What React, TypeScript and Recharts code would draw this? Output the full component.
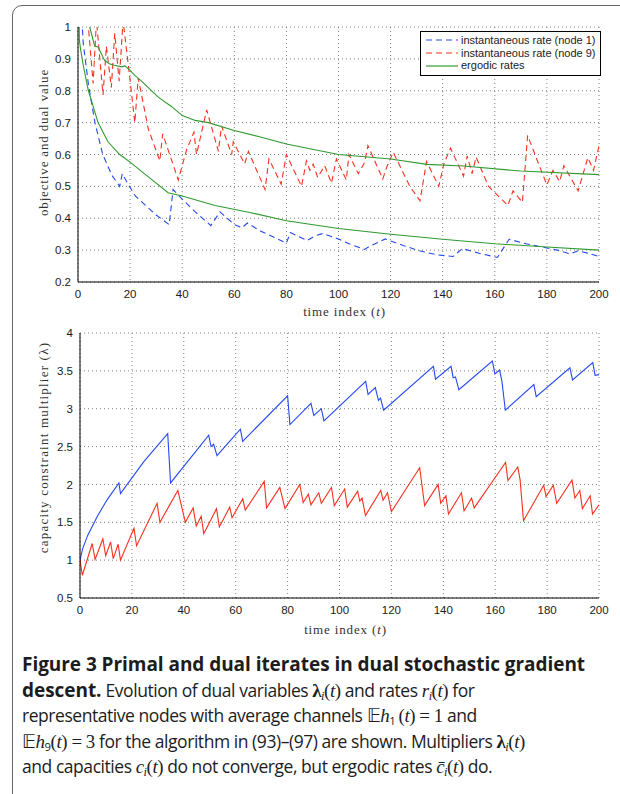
import React from 'react';
import { LineChart, Line, XAxis, YAxis, CartesianGrid, Legend } from 'recharts';

// tick labels
const timeTicks = [0, 20, 40, 60, 80, 100, 120, 140, 160, 180, 200];
const valueTicks = [0.2, 0.3, 0.4, 0.5, 0.6, 0.7, 0.8, 0.9, 1];
const multiplierTicks = [0.5, 1, 1.5, 2, 2.5, 3, 3.5, 4];

// top panel: [t, value]
const rateNode1: [number, number][] = [
  [0, 1.4], [1, 1.1], [2, 0.95], [4, 0.82], [6.5, 0.7], [9.5, 0.6], [13, 0.535], [16, 0.5], [17, 0.54],
  [19, 0.51], [22, 0.47], [26, 0.44], [30, 0.41], [35, 0.38], [36.5, 0.49], [40, 0.46], [45, 0.42],
  [51, 0.377], [54.5, 0.42], [60, 0.38], [63, 0.37], [65, 0.385], [70, 0.36], [74, 0.345], [80, 0.322],
  [81.5, 0.355], [88, 0.33], [91, 0.345], [94, 0.352], [100, 0.335], [104, 0.32], [110, 0.302],
  [111.5, 0.31], [118, 0.335], [125, 0.314], [131, 0.298], [138, 0.285], [144, 0.28], [147.5, 0.305],
  [154, 0.29], [161, 0.277], [165.5, 0.334], [172, 0.32], [179, 0.308], [184, 0.3], [189, 0.288],
  [192, 0.298], [196, 0.29], [200, 0.28],
];

const rateNode9: [number, number][] = [
  [0, 1.3], [2, 1.05], [4, 1.0], [5.8, 0.823], [7.1, 1.02], [9.6, 0.787], [10.9, 0.94], [12.8, 0.81],
  [14.1, 0.98], [15.8, 0.83], [17.3, 1.02], [19.9, 0.84], [21.8, 0.7], [23.1, 0.84], [27, 0.68],
  [31.4, 0.58], [32.5, 0.665], [38.5, 0.52], [41.7, 0.615], [44.5, 0.67], [45.5, 0.6], [49.4, 0.74],
  [53.9, 0.61], [55.1, 0.69], [59, 0.6], [59.6, 0.64], [64, 0.57], [65.4, 0.61], [71.8, 0.49],
  [73.3, 0.586], [78, 0.507], [80, 0.6], [85.8, 0.5], [87.7, 0.58], [89, 0.55], [90.3, 0.57],
  [92, 0.528], [94.7, 0.565], [97.3, 0.51], [99.2, 0.586], [103, 0.52], [104, 0.6], [107.6, 0.54],
  [110, 0.575], [111.3, 0.628], [117, 0.523], [118.5, 0.56], [121, 0.607], [127.4, 0.5], [131.3, 0.455],
  [133.8, 0.578], [138.5, 0.5], [140.5, 0.572], [143, 0.62], [148, 0.532], [149.4, 0.596], [151.3, 0.54],
  [152.8, 0.592], [157.6, 0.5], [165, 0.44], [167, 0.486], [170.6, 0.45], [172.6, 0.66], [176.6, 0.575],
  [180, 0.505], [182.3, 0.55], [184.9, 0.515], [186.5, 0.565], [192, 0.486], [195.7, 0.59],
  [197.9, 0.55], [200, 0.627],
];

const ergodicNode1: [number, number][] = [
  [0, 1.4], [0.5, 0.96], [1, 0.93], [2, 0.88], [4, 0.8], [7.7, 0.7], [11.5, 0.64], [16, 0.6], [20, 0.576],
  [27, 0.53], [34.6, 0.48], [40, 0.47], [52.6, 0.44], [66, 0.418], [80, 0.392], [100, 0.368],
  [120, 0.35], [140, 0.334], [160, 0.32], [180, 0.31], [200, 0.3],
];

const ergodicNode9: [number, number][] = [
  [0, 1.3], [1, 1.1], [4.5, 1.0], [6.4, 0.94], [7.7, 0.937], [10.2, 0.895], [12, 0.885], [14, 0.88],
  [16.7, 0.875], [18, 0.878], [20, 0.864], [21.8, 0.848], [24.4, 0.83], [30.8, 0.78], [36, 0.75],
  [40, 0.722], [45, 0.707], [50, 0.7], [60, 0.675], [70, 0.655], [80, 0.633], [100, 0.6], [120, 0.586],
  [134, 0.569], [148, 0.564], [170, 0.548], [200, 0.537],
];

// bottom panel: multipliers
const lambdaNode1: [number, number][] = [
  [0, 1.0], [1, 1.15], [3, 1.33], [6.7, 1.58], [10.5, 1.8], [15, 2.02], [15.6, 1.88], [24.6, 2.3],
  [33.8, 2.67], [34.9, 2.02], [49.6, 2.65], [50.5, 2.5], [51.5, 2.53], [52.8, 2.38], [61.8, 2.73],
  [62.7, 2.57], [80, 3.17], [80.9, 2.79], [89, 3.07], [90.1, 2.91], [93, 3.0], [94, 2.84], [110.1, 3.36],
  [111, 3.19], [113.8, 3.28], [115, 3.11], [115.8, 3.14], [117, 2.98], [136.2, 3.56], [137, 3.39],
  [143, 3.56], [143.8, 3.41], [144.7, 3.42], [146, 3.25], [158.9, 3.63], [159.9, 3.46], [161.7, 3.51],
  [162.6, 3.36], [163.9, 2.98], [174.9, 3.32], [175.8, 3.16], [188.8, 3.54], [189.8, 3.38],
  [197.6, 3.61], [198.5, 3.44], [200, 3.45],
];

const lambdaNode9: [number, number][] = [
  [0, 1.0], [0.9, 0.8], [4.7, 1.22], [5.8, 1.01], [8.8, 1.28], [9.9, 1.06], [11.8, 1.24], [12.8, 1.02],
  [14.7, 1.21], [15.6, 1.0], [20.8, 1.42], [21.8, 1.19], [29.7, 1.75], [30.8, 1.5], [37.7, 1.92],
  [40.6, 1.5], [43.6, 1.69], [44.8, 1.45], [46.7, 1.58], [47.7, 1.35], [52.6, 1.68], [53.7, 1.44],
  [57.7, 1.7], [58.6, 1.56], [62.7, 1.81], [63.7, 1.66], [71, 2.04], [71.9, 1.69], [77, 1.96], [79, 1.68],
  [84.7, 2.0], [86, 1.76], [88, 1.87], [89, 1.73], [92, 1.89], [93, 1.75], [96.9, 1.96], [98, 1.72],
  [102, 1.94], [103, 1.7], [107, 1.91], [107.8, 1.78], [108.7, 1.82], [110, 1.59], [115.9, 1.92],
  [116.8, 1.79], [118.5, 1.89], [120, 1.64], [130.9, 2.22], [132.8, 1.72], [138, 2.0], [139, 1.75],
  [141, 1.85], [142, 1.61], [147, 1.89], [148, 1.65], [150.9, 1.82], [151.9, 1.69], [164, 2.29],
  [164.9, 2.05], [168.7, 2.23], [169.6, 2.06], [170.9, 1.52], [178.7, 1.99], [179.6, 1.84], [182.4, 1.99],
  [183.7, 1.75], [189.6, 2.06], [190.7, 1.82], [192.6, 1.92], [193.6, 1.68], [196.6, 1.85], [197.5, 1.61],
  [200, 1.73],
];

const legendNames = ['instantaneous rate (node 1)', 'instantaneous rate (node 9)', 'ergodic rates'];

const BLUE = '#2449f0';
const RED = '#f5321e';
const GREEN = '#2f9a2f';
const DASH = '6 4';

const legendColors = [BLUE, RED, GREEN];
const legendDashes = [DASH, DASH, undefined];

const toPoints = (pairs: [number, number][]) => pairs.map(([t, v]) => ({ t, v }));

const tickStyle = { fontSize: 11.5, fill: '#1a1a1a', fontFamily: '"Liberation Sans", Arial, sans-serif' };
const serifLabel = { fontSize: 13, fill: '#333', fontFamily: '"Liberation Serif", serif', letterSpacing: 0.85 };

// grid only at the labelled ticks (plot offset maps the tick values)
const vGrid = (ticks: number[], lo: number, hi: number) => ({ offset }: any) =>
  ticks.map((t) => offset.left + ((t - lo) / (hi - lo)) * offset.width);
const hGrid = (ticks: number[], lo: number, hi: number) => ({ offset }: any) =>
  ticks.map((v) => offset.top + ((hi - v) / (hi - lo)) * offset.height);

const xLabel = (dy: number) => (props: any) => {
  const { viewBox } = props;
  return (
    <text x={viewBox.x + viewBox.width / 2 + 6} y={viewBox.y + dy} textAnchor="middle" style={serifLabel}>
      time index (<tspan fontStyle="italic">t</tspan>)
    </text>
  );
};

const yLabel = (text: string, dx: number, dy: number, spacing: number) => (props: any) => {
  const { viewBox } = props;
  const x = viewBox.x + dx;
  const y = viewBox.y + viewBox.height / 2 + dy;
  return (
    <text x={x} y={y} transform={`rotate(-90, ${x}, ${y})`} textAnchor="middle" dominantBaseline="central"
      style={{ ...serifLabel, letterSpacing: spacing }}>
      {text}
    </text>
  );
};

const renderLegend = () => (
  <div
    style={{
      border: '1px solid #000',
      background: '#fff',
      padding: '2px 4px 3px 5px',
      fontFamily: '"Liberation Sans", Arial, sans-serif',
      fontSize: 11,
      color: '#222',
      lineHeight: '12.7px',
    }}
  >
    {legendNames.map((name, i) => (
      <div key={name} style={{ display: 'flex', alignItems: 'center', whiteSpace: 'nowrap' }}>
        <svg width={32} height={6} style={{ marginRight: 3 }}>
          <line x1={0} y1={3} x2={32} y2={3} stroke={legendColors[i]} strokeWidth={1.2} strokeDasharray={legendDashes[i]} />
        </svg>
        <span>{name}</span>
      </div>
    ))}
  </div>
);

// inward ticks and the upper/right frame, MATLAB style
const frameAxes = (yDomain: [number, number], yTicks: number[]) => [
  <XAxis key="ft" xAxisId="top" orientation="top" type="number" dataKey="t" domain={[0, 200]} ticks={timeTicks}
    mirror tick={false} tickSize={4} height={0} stroke="#000" allowDataOverflow />,
  <XAxis key="fb" xAxisId="bottomTicks" orientation="bottom" type="number" dataKey="t" domain={[0, 200]} ticks={timeTicks}
    mirror tick={false} tickSize={4} height={0} axisLine={false} stroke="#000" allowDataOverflow />,
  <YAxis key="fr" yAxisId="right" orientation="right" type="number" domain={yDomain} ticks={yTicks}
    mirror tick={false} tickSize={4} width={0} stroke="#000" allowDataOverflow />,
  <YAxis key="fl" yAxisId="leftTicks" orientation="left" type="number" domain={yDomain} ticks={yTicks}
    mirror tick={false} tickSize={4} width={0} axisLine={false} stroke="#000" allowDataOverflow />,
];

const serif = '"Liberation Serif", serif';
const M = ({ children }: { children: React.ReactNode }) => (
  <span style={{ fontFamily: serif, fontStyle: 'italic', fontSize: '1.08em', lineHeight: 0 }}>{children}</span>
);
const Up = ({ children }: { children: React.ReactNode }) => (
  <span style={{ fontFamily: serif, fontSize: '1.08em', lineHeight: 0 }}>{children}</span>
);
const Sub = ({ children }: { children: React.ReactNode }) => (
  <sub style={{ fontSize: '0.65em', verticalAlign: '-0.3em', lineHeight: 0 }}>{children}</sub>
);
const Lam = () => <Up><b>{'\u03bb'}</b></Up>;
const Of = () => (
  <>
    <Up>(</Up><M>t</M><Up>)</Up>
  </>
);

const captionLine = { height: 25.5, lineHeight: '25.5px', whiteSpace: 'nowrap' as const };
const bold = { fontWeight: 700, fontSize: 19, letterSpacing: -0.05 };

export default function App() {
  return (
    <div style={{ position: 'absolute', left: 0, top: 0, width: 620, height: 794, overflow: 'hidden', background: '#fff' }}>
      <div
        style={{
          position: 'absolute', left: 12, top: 5, width: 700, height: 900,
          border: '1.3px solid #666', borderRadius: 10,
        }}
      />

      <div style={{ position: 'absolute', left: 0, top: 0 }}>
        <LineChart width={620} height={330} margin={{ top: 27, right: 21, bottom: 18, left: 38 }}>
          <CartesianGrid stroke="#808080" strokeDasharray="1 3"
            verticalCoordinatesGenerator={vGrid(timeTicks, 0, 200)}
            horizontalCoordinatesGenerator={hGrid(valueTicks, 0.2, 1)} />
          <XAxis dataKey="t" type="number" domain={[0, 200]} ticks={timeTicks} tickLine={false} height={30}
            stroke="#000" tick={tickStyle} tickMargin={2} allowDataOverflow label={{ content: xLabel(34) }} />
          <YAxis type="number" domain={[0.2, 1]} ticks={valueTicks} tickLine={false} width={40}
            stroke="#000" tick={tickStyle} tickMargin={1} allowDataOverflow
            label={{ content: yLabel('objective and dual value', 5, -12, 0.85) }} />
          {frameAxes([0.2, 1], valueTicks)}
          <Legend layout="vertical" align="center" verticalAlign="middle" content={renderLegend}
            wrapperStyle={{ left: 420, top: 31, width: 'auto' }} />
          <Line data={toPoints(rateNode1)} dataKey="v" name={legendNames[0]} stroke={BLUE} strokeWidth={1.1}
            strokeDasharray={DASH} dot={false} isAnimationActive={false} />
          <Line data={toPoints(rateNode9)} dataKey="v" name={legendNames[1]} stroke={RED} strokeWidth={1.1}
            strokeDasharray={DASH} dot={false} isAnimationActive={false} />
          <Line data={toPoints(ergodicNode1)} dataKey="v" name={legendNames[2]} stroke={GREEN} strokeWidth={1.1}
            dot={false} isAnimationActive={false} />
          <Line data={toPoints(ergodicNode9)} dataKey="v" name="ergodic rates (node 9)" legendType="none" stroke={GREEN}
            strokeWidth={1.1} dot={false} isAnimationActive={false} />
        </LineChart>
      </div>

      <div style={{ position: 'absolute', left: 0, top: 320 }}>
        <LineChart width={620} height={330} margin={{ top: 13, right: 21, bottom: 22, left: 40 }}>
          <CartesianGrid stroke="#808080" strokeDasharray="1 3"
            verticalCoordinatesGenerator={vGrid(timeTicks, 0, 200)}
            horizontalCoordinatesGenerator={hGrid(multiplierTicks, 0.5, 4)} />
          <XAxis dataKey="t" type="number" domain={[0, 200]} ticks={timeTicks} tickLine={false} height={30}
            stroke="#000" tick={tickStyle} tickMargin={2} allowDataOverflow label={{ content: xLabel(36) }} />
          <YAxis type="number" domain={[0.5, 4]} ticks={multiplierTicks} tickLine={false} width={40}
            stroke="#000" tick={tickStyle} tickMargin={1} allowDataOverflow
            label={{ content: yLabel('capacity constraint multiplier (\u03bb)', 3, -18, 1.2) }} />
          {frameAxes([0.5, 4], multiplierTicks)}
          <Line data={toPoints(lambdaNode1)} dataKey="v" name="multiplier (node 1)" stroke={BLUE} strokeWidth={1.1}
            dot={false} isAnimationActive={false} />
          <Line data={toPoints(lambdaNode9)} dataKey="v" name="multiplier (node 9)" stroke={RED} strokeWidth={1.1}
            dot={false} isAnimationActive={false} />
        </LineChart>
      </div>

      <div
        style={{
          position: 'absolute', left: 22, top: 652, width: 595,
          fontFamily: '"Open Sans", sans-serif', fontSize: 17.5, color: '#1c1c1c', letterSpacing: -0.45,
        }}
      >
        <div style={captionLine}>
          <span style={bold}>Figure 3 Primal and dual iterates in dual stochastic gradient</span>
        </div>
        <div style={captionLine}>
          <span style={bold}>descent.</span> Evolution of dual variables <Lam /><Sub><M>i</M></Sub><Of /> and rates{' '}
          <M>r</M><Sub><M>i</M></Sub><Of /> for
        </div>
        <div style={captionLine}>
          representative nodes with average channels <Up>{'\ud835\udd3c'}</Up><M>h</M><Sub>1</Sub><Up>{'\u2009'}</Up><Of />
          <Up> = 1</Up> and
        </div>
        <div style={captionLine}>
          <Up>{'\ud835\udd3c'}</Up><M>h</M><Sub>9</Sub><Of /><Up> = 3</Up> for the algorithm in (93)–(97) are shown. Multipliers{' '}
          <Lam /><Sub><M>i</M></Sub><Of />
        </div>
        <div style={captionLine}>
          and capacities <M>c</M><Sub><M>i</M></Sub><Of /> do not converge, but ergodic rates{' '}
          <M>{'c\u0304'}</M><Sub><M>i</M></Sub><Of /> do.
        </div>
      </div>
    </div>
  );
}
